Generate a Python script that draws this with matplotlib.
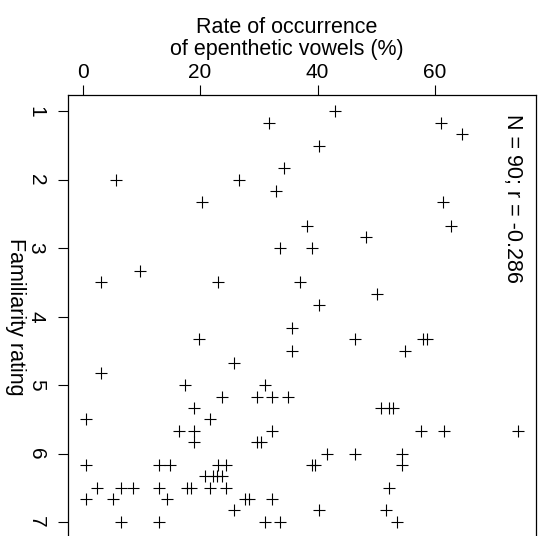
import matplotlib
matplotlib.use("Agg")
import matplotlib.pyplot as plt

plt.rcParams['font.family'] = ['Liberation Sans', 'DejaVu Sans']

# familiarity rating (mean of raters) and rate of epenthetic vowels (%)
familiarity = [1.00,
               1.17, 1.17,
               1.33,
               1.50,
               1.83,
               2.00, 2.00,
               2.17,
               2.33, 2.33,
               2.67, 2.67,
               2.83,
               3.00, 3.00,
               3.33,
               3.50, 3.50, 3.50,
               3.67,
               3.83,
               4.17,
               4.33, 4.33, 4.33, 4.33,
               4.50, 4.50,
               4.67,
               4.83,
               5.00, 5.00,
               5.17, 5.17, 5.17, 5.17,
               5.33, 5.33, 5.33, 5.33,
               5.50, 5.50,
               5.67, 5.67, 5.67, 5.67, 5.67, 5.67,
               5.83, 5.83, 5.83,
               6.00, 6.00, 6.00,
               6.17, 6.17, 6.17, 6.17, 6.17, 6.17, 6.17, 6.17,
               6.33, 6.33, 6.33, 6.33,
               6.50, 6.50, 6.50, 6.50, 6.50, 6.50, 6.50, 6.50, 6.50,
               6.67, 6.67, 6.67, 6.67, 6.67, 6.67,
               6.83, 6.83, 6.83,
               7.00, 7.00, 7.00, 7.00, 7.00]
epenthesis = [43.0,
              31.7, 61.1,
              64.6,
              40.3,
              34.3,
              5.7, 26.7,
              33.0,
              20.4, 61.3,
              38.2, 62.8,
              48.3,
              33.6, 39.0,
              9.7,
              3.1, 23.1, 37.0,
              50.2,
              40.3,
              35.7,
              19.8, 46.3, 58.0, 58.6,
              35.7, 54.9,
              25.7,
              3.1,
              17.4, 31.0,
              23.7, 29.7, 32.3, 35.0,
              19.0, 50.8, 52.2, 52.8,
              0.5, 21.7,
              16.4, 19.0, 32.3, 57.6, 61.5, 74.2,
              19.0, 29.7, 30.3,
              41.6, 46.3, 54.3,
              0.5, 13.0, 14.8, 23.1, 24.4, 39.0, 39.5, 54.3,
              20.9, 22.2, 22.9, 23.7,
              2.4, 6.5, 8.5, 13.0, 17.7, 18.4, 21.7, 24.4, 52.2,
              0.5, 5.1, 14.4, 27.6, 28.3, 32.3,
              25.7, 40.3, 51.6,
              6.5, 13.0, 31.0, 33.6, 53.6]

x_ticks = [0, 20, 40, 60]
y_ticks = [1, 2, 3, 4, 5, 6, 7]
stat_text = "N = 90; r = -0.286"

W, H = 541, 536
fig = plt.figure(figsize=(W / 100, H / 100), dpi=100)
# box runs a little past the bottom edge, as in the cropped original
ax = fig.add_axes([68.3 / W, 1 - 538.4 / H, (535.7 - 68.3) / W, (538.4 - 95) / H])

ax.plot(epenthesis, familiarity, linestyle='none', marker='+',
        markersize=9, markeredgewidth=0.8, color='black')

ax.set_xlim(-2.45, 77.15)
ax.set_ylim(7.24, 0.76)
ax.xaxis.tick_top()
ax.set_xticks(x_ticks)
ax.set_yticks(y_ticks)
ax.tick_params(axis='x', direction='out', length=7, width=0.8, pad=2.5,
               labelsize=15)
ax.tick_params(axis='y', direction='out', length=7.3, width=0.8, pad=9,
               labelsize=15, labelrotation=-90)
for lab in ax.get_yticklabels():
    lab.set_verticalalignment('center')
for sp in ax.spines.values():
    sp.set_linewidth(0.9)

fig.text(287 / W, 1 - 38.5 / H, "Rate of occurrence\nof epenthetic vowels (%)",
         ha='center', va='center', fontsize=15.5, linespacing=1.1)
fig.text(15 / W, 1 - 317 / H, "Familiarity rating", rotation=-90,
         ha='center', va='center', fontsize=15.5)
fig.text(512 / W, 1 - 198 / H, stat_text, rotation=-90,
         ha='center', va='center', fontsize=15.5)

fig.savefig("out.png", dpi=100)
